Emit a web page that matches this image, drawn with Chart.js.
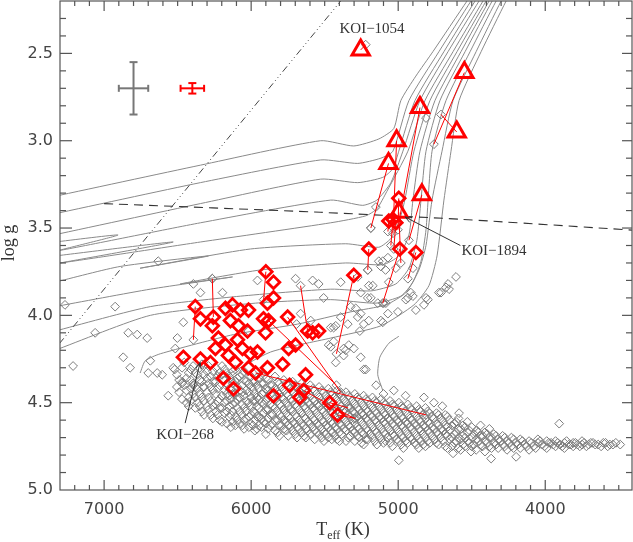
<!DOCTYPE html>
<html>
<head>
<meta charset="utf-8">
<script src="https://cdn.jsdelivr.net/npm/chart.js@4.4.1/dist/chart.umd.min.js"></script>
<style>
  html, body { margin: 0; background: #fff; }
</style>
</head>
<body>
<canvas id="hr" width="633" height="542"></canvas>
<script>
// ---- axis ticks ----
const xMajor = [7000, 6000, 5000, 4000];
const yMajor = [2.5, 3.0, 3.5, 4.0, 4.5, 5.0];

// ---- revised giants (triangles) and their previous values ----
const triTeff = [5255, 4550, 4852, 4602, 5011, 5066, 4839, 4996];
const triLogg = [2.48, 2.61, 2.81, 2.95, 3.00, 3.13, 3.31, 3.41];
const triPrevTeff = [5221, 4757, 4996, 4709, 5036, 5186, 4927, 4982];
const triPrevLogg = [2.45, 3.02, 3.47, 2.85, 3.53, 3.50, 3.57, 3.70];

// ---- revised dwarfs/subgiants (diamonds); prev = null when shift is hidden ----
const diaTeff = [4996, 5064, 5036, 5016, 5200, 4989, 4880, 5302, 5900, 5848,
                 5848, 5889, 5752, 5616, 5582, 5541, 5698, 5745, 5786, 5889,
                 5630, 5739, 5848, 5670, 5643, 5466, 5412, 6380, 6345, 6257,
                 6264, 6175, 6127, 6073, 6018, 6141, 6086, 6025, 5916, 6223,
                 6175, 6093, 6243, 6461, 6345, 6277, 6155, 6107, 6005, 5957,
                 6018, 5970, 6189, 6120, 5902, 5882, 6059];
const diaLogg = [3.33, 3.46, 3.45, 3.47, 3.62, 3.62, 3.64, 3.77, 3.75, 3.81,
                 3.90, 3.93, 4.01, 4.09, 4.10, 4.09, 4.17, 4.19, 4.28, 4.30,
                 4.34, 4.40, 4.46, 4.47, 4.43, 4.50, 4.57, 3.95, 4.02, 4.01,
                 4.06, 3.96, 3.94, 3.97, 3.97, 4.03, 4.06, 4.09, 4.02, 4.13,
                 4.17, 4.14, 4.19, 4.24, 4.25, 4.27, 4.23, 4.27, 4.22, 4.21,
                 4.30, 4.33, 4.36, 4.42, 4.10, 4.03, 4.19];
const diaPrevTeff = [5002, 5070, 5050, 5030, 5207, 5105, 4934, 5420, 5915, null,
                     null, null, 5391, 5664, null, null, null, null, null, null,
                     null, null, null, null, 5300, 5340, 5290, 6393, null, 6264,
                     null, null, null, null, null, null, null, null, null, null,
                     null, null, null, null, null, null, null, null, null, null,
                     null, 4811, null, null, null, 5420, null];
const diaPrevLogg = [3.51, 3.52, 3.60, 3.62, 3.74, 3.93, 3.79, 4.22, 3.91, null,
                     null, null, 4.44, 3.83, null, null, null, null, null, null,
                     null, null, null, null, 4.59, 4.53, 4.59, 4.14, null, 3.79,
                     null, null, null, null, null, null, null, null, null, null,
                     null, null, null, null, null, null, null, null, null, null,
                     null, 4.57, null, null, null, 4.40, null];

// ---- full KOI sample: main-sequence band, columns of [Teff, [logg...]] ----
const bandColumns = [
  [6520, [4.31]], [6490, [4.37, 4.44]], [6455, [4.27, 4.40]], [6425, [4.33, 4.47, 4.52]],
  [6395, [4.29, 4.39, 4.45]], [6365, [4.34, 4.42, 4.50]], [6335, [4.28, 4.38, 4.47, 4.55]],
  [6300, [4.32, 4.36, 4.44, 4.52]], [6275, [4.35, 4.41, 4.49, 4.57]],
  [6240, [4.30, 4.38, 4.45, 4.51, 4.55]], [6215, [4.33, 4.40, 4.48, 4.53, 4.60]],
  [6180, [4.31, 4.37, 4.43, 4.50, 4.56]], [6150, [4.35, 4.42, 4.46, 4.52, 4.58]],
  [6125, [4.32, 4.39, 4.45, 4.51, 4.55, 4.61]], [6095, [4.36, 4.41, 4.48, 4.53, 4.60]],
  [6060, [4.34, 4.40, 4.44, 4.51, 4.57, 4.63]], [6035, [4.38, 4.43, 4.49, 4.55, 4.59]],
  [6000, [4.35, 4.41, 4.47, 4.52, 4.57, 4.62]], [5975, [4.38, 4.45, 4.49, 4.56, 4.60, 4.66]],
  [5945, [4.36, 4.42, 4.48, 4.53, 4.58, 4.63]], [5915, [4.39, 4.44, 4.51, 4.56, 4.61]],
  [5885, [4.37, 4.43, 4.47, 4.54, 4.59, 4.65]], [5855, [4.40, 4.46, 4.52, 4.57, 4.62]],
  [5820, [4.38, 4.44, 4.49, 4.55, 4.60, 4.67]], [5795, [4.41, 4.47, 4.52, 4.58, 4.63]],
  [5760, [4.39, 4.45, 4.50, 4.56, 4.61, 4.66]], [5735, [4.42, 4.48, 4.54, 4.59, 4.64]],
  [5700, [4.40, 4.46, 4.51, 4.57, 4.62, 4.68]], [5675, [4.43, 4.49, 4.54, 4.60, 4.65]],
  [5640, [4.41, 4.47, 4.52, 4.58, 4.63, 4.69]], [5615, [4.44, 4.50, 4.55, 4.61, 4.66]],
  [5580, [4.42, 4.48, 4.53, 4.59, 4.64]], [5555, [4.45, 4.51, 4.56, 4.62, 4.67]],
  [5520, [4.43, 4.49, 4.54, 4.60, 4.65, 4.70]], [5490, [4.46, 4.52, 4.57, 4.63, 4.68]],
  [5460, [4.44, 4.50, 4.55, 4.61, 4.66]], [5430, [4.47, 4.53, 4.58, 4.64, 4.69]],
  [5400, [4.45, 4.51, 4.56, 4.62, 4.67, 4.72]], [5370, [4.48, 4.54, 4.59, 4.65]],
  [5340, [4.46, 4.52, 4.57, 4.63, 4.70]], [5310, [4.49, 4.55, 4.60, 4.66]],
  [5280, [4.47, 4.53, 4.58, 4.64, 4.69]], [5250, [4.50, 4.56, 4.61, 4.67, 4.73]],
  [5220, [4.48, 4.54, 4.59, 4.65, 4.71]], [5190, [4.51, 4.57, 4.62, 4.68]],
  [5160, [4.49, 4.55, 4.60, 4.66, 4.72]], [5130, [4.52, 4.58, 4.63, 4.69]],
  [5100, [4.50, 4.56, 4.61, 4.67, 4.73]], [5070, [4.53, 4.59, 4.64, 4.70]],
  [5040, [4.51, 4.57, 4.62, 4.68, 4.75]], [5010, [4.54, 4.60, 4.65, 4.71]],
  [4980, [4.52, 4.58, 4.63, 4.69, 4.74]], [4950, [4.55, 4.61, 4.66, 4.72]],
  [4920, [4.53, 4.59, 4.64, 4.70]], [4890, [4.56, 4.62, 4.67, 4.73]],
  [4860, [4.54, 4.60, 4.65, 4.71, 4.76]], [4830, [4.57, 4.63, 4.68, 4.74]],
  [4800, [4.55, 4.61, 4.66, 4.72]], [4770, [4.58, 4.64, 4.69]],
  [4740, [4.56, 4.62, 4.67, 4.73]], [4710, [4.59, 4.65, 4.70]],
  [4680, [4.57, 4.63, 4.68, 4.75]], [4650, [4.60, 4.66, 4.71]],
  [4620, [4.62, 4.68, 4.73]], [4590, [4.59, 4.65, 4.70, 4.76]],
  [4560, [4.63, 4.69, 4.74]], [4530, [4.61, 4.67, 4.72]], [4500, [4.64, 4.70, 4.75]],
  [4470, [4.66, 4.71, 4.77]], [4440, [4.63, 4.69, 4.74]], [4410, [4.67, 4.72, 4.78]],
  [4380, [4.65, 4.70, 4.75]], [4350, [4.68, 4.73]], [4320, [4.71, 4.76]],
  [4290, [4.69, 4.74]], [4260, [4.72, 4.77]], [4230, [4.70, 4.75]], [4200, [4.73]],
  [4170, [4.71, 4.76]], [4140, [4.74]], [4110, [4.72, 4.77]], [4080, [4.75]],
  [4050, [4.71, 4.73]], [4020, [4.74]], [3990, [4.72, 4.76]], [3960, [4.73]],
  [3930, [4.72, 4.75]], [3900, [4.74]], [3870, [4.73, 4.76]], [3840, [4.74]],
  [3810, [4.73, 4.75]], [3780, [4.74]], [3750, [4.72, 4.74]], [3720, [4.75]],
  [3690, [4.73]], [3660, [4.74]], [3620, [4.75]], [3590, [4.73]], [3560, [4.74]],
  [3520, [4.73]], [3490, [4.74]]
];

// ---- more of the band, between the columns above ----
const bandFill = [
  [6505, [4.34, 4.41]], [6470, [4.30, 4.39, 4.48]], [6440, [4.36, 4.43, 4.50]],
  [6410, [4.31, 4.37, 4.42, 4.49]], [6380, [4.33, 4.41, 4.47, 4.53]],
  [6350, [4.30, 4.37, 4.45, 4.52]], [6320, [4.34, 4.41, 4.49, 4.57]],
  [6290, [4.29, 4.39, 4.47, 4.54]], [6260, [4.32, 4.38, 4.43, 4.52, 4.59]],
  [6228, [4.35, 4.42, 4.49, 4.57]], [6198, [4.29, 4.34, 4.46, 4.53, 4.61]],
  [6165, [4.33, 4.39, 4.45, 4.49, 4.55, 4.62]], [6138, [4.37, 4.42, 4.48, 4.57, 4.64]],
  [6108, [4.31, 4.38, 4.45, 4.50, 4.58, 4.63]], [6078, [4.35, 4.43, 4.47, 4.55, 4.62]],
  [6048, [4.32, 4.37, 4.46, 4.53, 4.60, 4.65]], [6016, [4.39, 4.44, 4.50, 4.58, 4.64]],
  [5988, [4.33, 4.38, 4.43, 4.49, 4.55, 4.63]], [5960, [4.40, 4.47, 4.52, 4.58, 4.65]],
  [5930, [4.34, 4.39, 4.45, 4.50, 4.59, 4.64]], [5900, [4.36, 4.42, 4.49, 4.54, 4.62, 4.68]],
  [5870, [4.40, 4.45, 4.51, 4.57, 4.63]], [5838, [4.35, 4.42, 4.48, 4.53, 4.60, 4.66]],
  [5808, [4.39, 4.45, 4.51, 4.57, 4.63, 4.69]], [5778, [4.37, 4.43, 4.48, 4.54, 4.60, 4.65]],
  [5748, [4.40, 4.46, 4.52, 4.58, 4.63, 4.69]], [5718, [4.38, 4.44, 4.49, 4.55, 4.61, 4.66]],
  [5688, [4.41, 4.47, 4.52, 4.58, 4.64, 4.70]], [5658, [4.39, 4.45, 4.50, 4.56, 4.62, 4.67]],
  [5628, [4.42, 4.48, 4.53, 4.59, 4.65, 4.70]], [5598, [4.40, 4.46, 4.51, 4.57, 4.62, 4.68]],
  [5568, [4.43, 4.49, 4.54, 4.60, 4.66, 4.71]], [5538, [4.41, 4.47, 4.52, 4.58, 4.63, 4.68]],
  [5505, [4.44, 4.50, 4.55, 4.61, 4.67, 4.72]], [5475, [4.42, 4.48, 4.53, 4.59, 4.64, 4.70]],
  [5445, [4.45, 4.51, 4.56, 4.62, 4.67]], [5415, [4.43, 4.49, 4.54, 4.60, 4.65, 4.71]],
  [5385, [4.46, 4.52, 4.57, 4.63, 4.68]], [5355, [4.44, 4.50, 4.55, 4.61, 4.66, 4.72]],
  [5325, [4.47, 4.53, 4.58, 4.64, 4.69]], [5295, [4.45, 4.51, 4.56, 4.62, 4.67, 4.72]],
  [5265, [4.48, 4.54, 4.59, 4.65, 4.70]], [5235, [4.46, 4.52, 4.57, 4.63, 4.68, 4.74]],
  [5205, [4.49, 4.55, 4.60, 4.66, 4.71]], [5175, [4.47, 4.53, 4.58, 4.64, 4.70]],
  [5145, [4.50, 4.56, 4.61, 4.67, 4.74]], [5115, [4.48, 4.54, 4.59, 4.65, 4.71]],
  [5085, [4.51, 4.57, 4.62, 4.68, 4.72]], [5055, [4.49, 4.55, 4.60, 4.66, 4.73]],
  [5025, [4.52, 4.58, 4.63, 4.69]], [4995, [4.50, 4.56, 4.61, 4.67, 4.72]],
  [4965, [4.53, 4.59, 4.64, 4.70, 4.76]], [4935, [4.51, 4.57, 4.62, 4.68, 4.73]],
  [4905, [4.54, 4.60, 4.65, 4.71]], [4875, [4.52, 4.58, 4.63, 4.69, 4.74]],
  [4845, [4.55, 4.61, 4.66, 4.72]], [4815, [4.53, 4.59, 4.64, 4.70, 4.75]],
  [4785, [4.56, 4.62, 4.67, 4.73]], [4755, [4.59, 4.65, 4.71]],
  [4725, [4.57, 4.63, 4.68, 4.74]], [4695, [4.61, 4.66, 4.72]],
  [4665, [4.58, 4.64, 4.69, 4.76]], [4635, [4.63, 4.70, 4.75]],
  [4605, [4.61, 4.67, 4.72]], [4575, [4.65, 4.71, 4.77]], [4545, [4.64, 4.70, 4.75]],
  [4515, [4.66, 4.73]], [4485, [4.68, 4.74]], [4455, [4.67, 4.72]], [4425, [4.69, 4.75]],
  [4395, [4.68, 4.73]], [4365, [4.70, 4.76]], [4335, [4.69, 4.74]], [4305, [4.72]],
  [4275, [4.70, 4.75]], [4245, [4.73]], [4215, [4.71, 4.76]], [4185, [4.74]],
  [4155, [4.72]], [4125, [4.75]], [4095, [4.73]], [4065, [4.76]], [4035, [4.72]],
  [4005, [4.75]], [3975, [4.73]], [3945, [4.74]], [3915, [4.73]], [3885, [4.75]],
  [3855, [4.72]], [3825, [4.74]], [3795, [4.73]], [3765, [4.75]], [3735, [4.73]],
  [3705, [4.74]], [3675, [4.73]], [3640, [4.74]], [3605, [4.73]], [3575, [4.75]],
  [3540, [4.74]]
];

// ---- full KOI sample: scattered stars off the band ----
const scattered = [
  [7266, 3.94], [6925, 3.95], [7061, 4.10], [7211, 4.29], [6836, 4.10], [6775, 4.11],
  [6707, 4.13], [6870, 4.24], [6823, 4.30], [6686, 4.26], [6700, 4.33], [6639, 4.33],
  [6605, 4.34], [6564, 4.46], [6468, 4.38], [6530, 4.30], [6461, 4.04], [6502, 4.13],
  [6516, 4.19], [6393, 3.82], [6345, 3.87], [6264, 3.79], [6195, 3.87], [6393, 4.40],
  [6325, 4.41], [6632, 3.69], [5957, 3.80], [5698, 3.79], [5582, 3.80], [6018, 4.09],
  [5541, 3.82], [5391, 3.81], [5507, 3.90], [5255, 3.87], [5200, 3.83], [5139, 3.93],
  [5323, 3.95], [5255, 3.99], [5425, 4.06], [5336, 4.17], [5261, 4.09], [5425, 4.27],
  [5220, 4.31], [5473, 4.17], [5371, 4.19], [5595, 4.03], [5664, 3.99], [5691, 4.05],
  [5152, 3.38], [5186, 3.50], [5207, 3.74], [5132, 3.69], [5070, 3.67], [5118, 3.72],
  [5275, 3.78], [5186, 3.90], [5098, 3.93], [5070, 3.99], [5118, 4.03], [5002, 3.98],
  [4948, 3.91], [4900, 3.89], [4880, 3.97], [4825, 3.94], [4798, 3.91], [5289, 3.96],
  [5234, 4.05], [5391, 4.01], [5439, 4.07], [5459, 4.18], [4900, 3.73], [4607, 3.78],
  [4661, 3.82], [4723, 3.87], [4675, 3.84], [4914, 3.87], [4934, 3.90], [5084, 3.93],
  [5105, 4.04], [5343, 4.05], [5439, 4.15], [5357, 4.20], [5200, 4.03], [3905, 4.62],
  [4996, 4.83], [5452, 4.71], [4811, 2.87], [5105, 3.69], [5086, 3.74], [5016, 3.73],
  [5173, 3.83], [5207, 3.90], [5064, 3.81], [4811, 3.90], [4709, 3.87], [4654, 3.85],
  [4368, 4.82], [4198, 4.81], [4627, 4.79], [4505, 4.78], [5030, 4.43], [4825, 4.47],
  [4757, 4.50], [4586, 4.56], [5234, 4.31], [5255, 4.24], [5302, 4.19], [5371, 4.23],
  [5275, 4.01], [5459, 4.07], [5150, 4.40], [5100, 4.45], [4700, 4.52], [4950, 4.46]
];

// ---- evolutionary tracks, [Teff, logg] vertices ----
const tracks = [
  [[7400, 3.33], [6345, 3.14], [5527, 3.00], [5302, 3.03], [5132, 2.99], [5030, 2.93], [4982, 2.77], [4880, 2.63], [4764, 2.49], [4532, 2.20], [4505, 2.17]],
  [[7400, 3.43], [6345, 3.24], [5527, 3.11], [5275, 3.13], [5118, 3.10], [5036, 3.06], [4927, 2.77], [4723, 2.49], [4505, 2.20], [4480, 2.17]],
  [[7400, 3.55], [6345, 3.36], [5527, 3.22], [5275, 3.24], [5105, 3.21], [5036, 3.16], [4996, 3.06], [4886, 2.77], [4689, 2.49], [4477, 2.20], [4452, 2.17]],
  [[7334, 3.58], [6905, 3.54], [7314, 3.63], [6345, 3.47], [5459, 3.34], [5241, 3.37], [5145, 3.34], [5050, 3.24], [4968, 3.06], [4852, 2.77], [4661, 2.49], [4450, 2.20], [4425, 2.17]],
  [[7334, 3.66], [6530, 3.58], [7300, 3.70], [6345, 3.58], [5459, 3.47], [5220, 3.43], [5145, 3.39], [5077, 3.29], [4934, 3.06], [4818, 2.77], [4627, 2.49], [4423, 2.20], [4398, 2.17]],
  [[7334, 3.81], [6891, 3.72], [6291, 3.66], [6755, 3.73], [6005, 3.62], [5357, 3.59], [5132, 3.61], [5050, 3.56], [4996, 3.47], [4955, 3.34], [4893, 3.06], [4784, 2.77], [4600, 2.49], [4402, 2.20], [4377, 2.17]],
  [[7334, 3.95], [6686, 3.85], [6127, 3.78], [6482, 3.82], [5936, 3.74], [5357, 3.70], [5105, 3.71], [4996, 3.66], [4927, 3.54], [4900, 3.34], [4852, 3.06], [4750, 2.77], [4573, 2.49], [4382, 2.20], [4357, 2.17]],
  [[7334, 4.09], [6686, 3.95], [6073, 3.89], [5459, 3.85], [5186, 3.86], [5016, 3.82], [4927, 3.73], [4873, 3.57], [4845, 3.34], [4811, 3.06], [4716, 2.77], [4545, 2.49], [4361, 2.20], [4336, 2.17]],
  [[7334, 4.20], [6686, 4.00], [5970, 3.93], [5459, 3.91], [5152, 3.93], [4982, 3.89], [4900, 3.81], [4845, 3.69], [4811, 3.51], [4770, 3.06], [4675, 2.77], [4511, 2.49], [4334, 2.20], [4309, 2.17]],
  [[6755, 4.33], [6720, 4.26], [6618, 4.22], [6120, 4.11], [5684, 4.05], [5323, 3.98], [5084, 3.94], [4948, 3.87], [4859, 3.74], [4811, 3.60], [4770, 3.34], [4702, 3.06], [4627, 2.77], [4470, 2.49], [4300, 2.20], [4275, 2.17]],
  [[6200, 4.36], [5868, 4.21], [5459, 4.13], [5118, 4.06], [4893, 3.94], [4791, 3.83], [4736, 3.66], [4689, 3.34], [4641, 3.06], [4586, 2.77], [4436, 2.49], [4266, 2.20], [4241, 2.17]],
  [[5105, 4.43], [5139, 4.34], [5125, 4.24], [5064, 4.16], [4996, 4.12]]
];

// ---- reference lines ----
const dashDotTeff = [7400, 5342];
const dashDotLogg = [4.26, 2.15];
const dashedTeff = [7000, 5527, 4573, 3350];
const dashedLogg = [3.36, 3.41, 3.45, 3.515];

// ---- typical uncertainties (grey: old, red: new) ----
const errTeff = [6800, 6400];
const errLogg = [2.70, 2.70];
const errDT = [100, 80];
const errDG = [0.15, 0.03];
const errColor = ['#777777', '#ff0000'];

// ---------------------------------------------------------------
const pts = (ts, gs) => ts.map((t, i) => ({ x: t, y: gs[i] }));
const pairs = arr => arr.map(p => ({ x: p[0], y: p[1] }));

const greyPts = [];
bandColumns.concat(bandFill).forEach(([t, gs]) => gs.forEach(g => greyPts.push({ x: t, y: g })));
scattered.forEach(p => greyPts.push({ x: p[0], y: p[1] }));
triPrevTeff.forEach((t, i) => greyPts.push({ x: t, y: triPrevLogg[i] }));
diaPrevTeff.forEach((t, i) => { if (t !== null) greyPts.push({ x: t, y: diaPrevLogg[i] }); });

const datasets = [
  { data: pts(triTeff, triLogg), pointStyle: 'triangle', pointRadius: 10,
    borderColor: '#ff0000', borderWidth: 3, backgroundColor: 'rgba(0,0,0,0)', order: 0 },
  { data: pts(diaTeff, diaLogg), pointStyle: 'rectRot', pointRadius: 6.3,
    borderColor: '#ff0000', borderWidth: 2.8, backgroundColor: 'rgba(0,0,0,0)', order: 1 },
  { data: greyPts, pointStyle: 'rectRot', pointRadius: 4.4,
    borderColor: '#7c7c7c', borderWidth: 1, backgroundColor: 'rgba(0,0,0,0)', order: 4 }
];

const shiftLine = (a, b) => ({
  data: [a, b], showLine: true, pointRadius: 0, borderColor: '#ff0000',
  borderWidth: 1, order: 2
});
triTeff.forEach((t, i) => datasets.push(shiftLine({ x: t, y: triLogg[i] }, { x: triPrevTeff[i], y: triPrevLogg[i] })));
diaTeff.forEach((t, i) => {
  if (diaPrevTeff[i] !== null) datasets.push(shiftLine({ x: t, y: diaLogg[i] }, { x: diaPrevTeff[i], y: diaPrevLogg[i] }));
});

tracks.forEach(tr => datasets.push({
  data: pairs(tr), showLine: true, pointRadius: 0, borderColor: '#8a8a8a',
  borderWidth: 1, tension: 0.2, order: 6
}));
datasets.push({ data: pts(dashDotTeff, dashDotLogg), showLine: true, pointRadius: 0,
  borderColor: '#444', borderWidth: 1, borderDash: [7, 3, 1, 3, 1, 3, 1, 3], order: 5 });
datasets.push({ data: pts(dashedTeff, dashedLogg), showLine: true, pointRadius: 0,
  borderColor: '#333', borderWidth: 1.1, borderDash: [9, 6], tension: 0.2, order: 5 });

// axes frame, inward ticks, labels, annotations, error bars
const frame = {
  id: 'frame',
  afterDatasetsDraw(chart) {
    const { ctx, chartArea: a } = chart;
    const sx = chart.scales.x, sy = chart.scales.y;
    const seg = (x1, y1, x2, y2) => { ctx.beginPath(); ctx.moveTo(x1, y1); ctx.lineTo(x2, y2); ctx.stroke(); };
    ctx.save();

    // error bars
    errTeff.forEach((t, i) => {
      const cx = sx.getPixelForValue(t), cy = sy.getPixelForValue(errLogg[i]);
      const x0 = sx.getPixelForValue(t + errDT[i]), x1 = sx.getPixelForValue(t - errDT[i]);
      const y0 = sy.getPixelForValue(errLogg[i] - errDG[i]), y1 = sy.getPixelForValue(errLogg[i] + errDG[i]);
      ctx.strokeStyle = errColor[i]; ctx.lineWidth = 2;
      seg(x0, cy, x1, cy); seg(cx, y0, cx, y1);
      seg(x0, cy - 3.5, x0, cy + 3.5); seg(x1, cy - 3.5, x1, cy + 3.5);
      seg(cx - 4, y0, cx + 4, y0); seg(cx - 4, y1, cx + 4, y1);
    });

    // annotations
    ctx.strokeStyle = '#333'; ctx.lineWidth = 1;
    const arrow = (t1, g1, t2, g2) => {
      const x1 = sx.getPixelForValue(t1), y1 = sy.getPixelForValue(g1);
      const x2 = sx.getPixelForValue(t2), y2 = sy.getPixelForValue(g2);
      seg(x1, y1, x2, y2);
      const ang = Math.atan2(y2 - y1, x2 - x1);
      [-0.4, 0.4].forEach(d => seg(x2, y2, x2 - 7 * Math.cos(ang + d), y2 - 7 * Math.sin(ang + d)));
    };
    arrow(4577, 3.60, 4952, 3.437);
    arrow(6449, 4.617, 6347, 4.27);
    ctx.fillStyle = '#333';
    ctx.font = '15px "Liberation Serif"';
    ctx.textBaseline = 'middle';
    ctx.textAlign = 'center';
    ctx.fillText('KOI\u22121054', sx.getPixelForValue(5178), sy.getPixelForValue(2.36));
    ctx.fillText('KOI\u2212268', sx.getPixelForValue(6449), sy.getPixelForValue(4.685));
    ctx.textAlign = 'left';
    ctx.fillText('KOI\u22121894', sx.getPixelForValue(4570), sy.getPixelForValue(3.632));

    // frame
    ctx.strokeStyle = '#555'; ctx.lineWidth = 1.2;
    ctx.strokeRect(a.left, a.top, a.right - a.left, a.bottom - a.top);
    for (let t = 3500; t <= 7200; t += 100) {
      const px = sx.getPixelForValue(t);
      const len = t % 1000 === 0 ? 10 : 5;
      seg(px, a.bottom, px, a.bottom - len);
      seg(px, a.top, px, a.top + len);
    }
    for (let k = 23; k <= 49; k++) {
      const py = sy.getPixelForValue(k / 10);
      const major = k % 5 === 0;
      seg(a.left, py, a.left + (major ? 12 : 6), py);
      seg(a.right, py, a.right - (major ? 10 : 6), py);
    }

    // tick labels
    ctx.fillStyle = '#444';
    ctx.font = '16px "DejaVu Sans"';
    ctx.textBaseline = 'middle';
    ctx.textAlign = 'center';
    xMajor.forEach(t => ctx.fillText(String(t), sx.getPixelForValue(t), a.bottom + 20));
    ctx.textAlign = 'right';
    yMajor.forEach(g => ctx.fillText(g.toFixed(1), a.left - 7, sy.getPixelForValue(g)));

    // axis titles
    ctx.fillStyle = '#333';
    ctx.textBaseline = 'alphabetic';
    ctx.textAlign = 'left';
    ctx.font = '18px "Liberation Serif"';
    const wT = ctx.measureText('T').width, wK = ctx.measureText(' (K)').width;
    ctx.font = '12px "Liberation Serif"';
    const wE = ctx.measureText('eff').width;
    let x0 = 343 - (wT + wE + wK) / 2;
    ctx.font = '18px "Liberation Serif"';
    ctx.fillText('T', x0, 535);
    ctx.font = '12px "Liberation Serif"';
    ctx.fillText('eff', x0 + wT, 539);
    ctx.font = '18px "Liberation Serif"';
    ctx.fillText(' (K)', x0 + wT + wE, 535);

    ctx.translate(9, 243);
    ctx.rotate(-Math.PI / 2);
    ctx.textAlign = 'center';
    ctx.textBaseline = 'middle';
    ctx.fillText('log g', 0, 0);
    ctx.restore();
  }
};

new Chart(document.getElementById('hr'), {
  type: 'scatter',
  data: { datasets },
  options: {
    responsive: false,
    animation: false,
    events: [],
    layout: { autoPadding: false, padding: { left: 60, right: 1, top: 1, bottom: 52 } },
    plugins: { legend: { display: false }, tooltip: { enabled: false } },
    scales: {
      x: { type: 'linear', reverse: true, min: 3410, max: 7300, display: false },
      y: { type: 'linear', reverse: true, min: 2.2, max: 5.0, display: false }
    }
  },
  plugins: [frame]
});
</script>
</body>
</html>
